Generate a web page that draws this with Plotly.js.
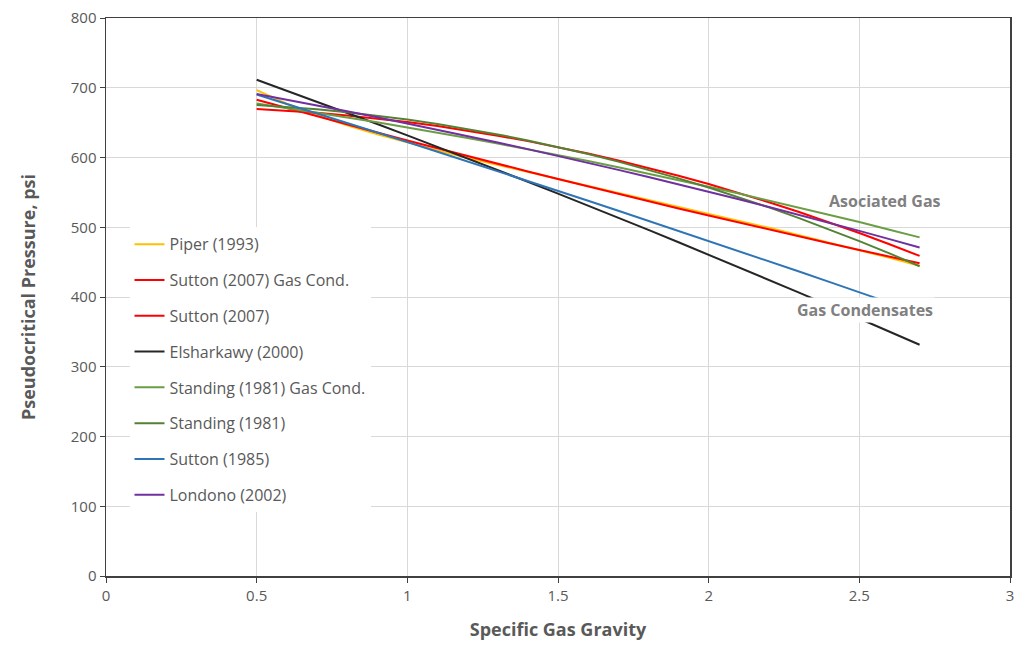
<!DOCTYPE html>
<html>
<head>
<meta charset="utf-8">
<script src="https://cdn.plot.ly/plotly-3.0.1.min.js"></script>
<style>html,body{margin:0;padding:0;background:#fff;}#chart{width:1019px;height:648px;}</style>
</head>
<body>
<div id="chart"></div>
<script>
const gravity = [0.5,0.6,0.7,0.8,0.9,1.0,1.1,1.2,1.3,1.4,1.5,1.6,1.7,1.8,1.9,2.0,2.1,2.2,2.3,2.4,2.5,2.6,2.7];

const piper1993 = [696.7,677.1,660.7,646.3,633.3,621.4,610.2,599.4,589.1,579.0,569.0,559.2,549.3,539.5,529.6,519.6,509.4,499.2,488.7,478.1,467.3,456.2,444.8];
const sutton2007GasCond = [682.8,670.9,659.1,647.5,635.9,624.5,613.2,602.0,591.0,580.0,569.2,558.5,547.9,537.4,527.0,516.8,506.7,496.7,486.8,477.0,467.4,457.8,448.4];
const sutton2007 = [669.5,667.2,664.1,660.3,655.9,650.8,645.0,638.5,631.3,623.5,614.9,605.7,595.8,585.2,573.9,561.9,549.2,535.9,521.9,507.1,491.7,475.6,458.9];
const elsharkawy2000 = [711.4,695.8,680.0,664.1,648.0,631.8,615.4,598.9,582.1,565.3,548.2,531.1,513.7,496.2,478.5,460.7,442.7,424.6,406.3,387.8,369.2,350.5,331.5];
const standing1981GasCond = [677.4,671.0,664.4,657.5,650.5,643.2,635.7,628.0,620.0,611.9,603.5,594.9,586.0,577.0,567.7,558.2,548.5,538.5,528.4,518.0,507.4,496.5,485.5];
const standing1981 = [675.1,672.5,669.1,665.0,660.1,654.5,648.1,641.0,633.1,624.5,615.1,605.0,594.1,582.5,570.1,557.0,543.1,528.5,513.1,497.0,480.1,462.5,444.1];
const sutton1985 = [690.4,676.9,663.3,649.7,636.0,622.2,608.3,594.4,580.4,566.3,552.2,538.0,523.7,509.3,494.9,480.4,465.8,451.2,436.5,421.7,406.8,391.9,376.9];
const londono2002 = [691.0,683.0,674.8,666.4,657.8,649.0,640.0,630.9,621.5,612.0,602.3,592.4,582.3,572.0,561.6,550.9,540.1,529.0,517.8,506.4,494.8,483.0,471.0];

const seriesNames = ["Piper (1993)","Sutton (2007) Gas Cond.","Sutton (2007)","Elsharkawy (2000)","Standing (1981) Gas Cond.","Standing (1981)","Sutton (1985)","Londono (2002)"];
const seriesValues = [piper1993,sutton2007GasCond,sutton2007,elsharkawy2000,standing1981GasCond,standing1981,sutton1985,londono2002];
const seriesColors = ["#FFC000","#FF0000","#FF0000","#262626","#6A9E45","#548235","#2E75B6","#7030A0"];

const traces = seriesNames.map((n,i)=>({
  x: gravity, y: seriesValues[i], name: n, type:'scatter', mode:'lines',
  line:{color:seriesColors[i], width:2}, legendgroup:'g'+i
}));

const fontFam = '"Open Sans", "Noto Sans", sans-serif';
const layout = {
  width:1019, height:648,
  margin:{l:106, r:9, t:18, b:72},
  paper_bgcolor:'#fff', plot_bgcolor:'#fff',
  showlegend:true,
  legend:{x:0.026, y:0.625, xanchor:'left', yanchor:'top', bgcolor:'#fff',
    font:{family:fontFam, size:16, color:'#595959'}, tracegroupgap:12, itemwidth:30},
  xaxis:{range:[0,3], dtick:0.5, tick0:0, showgrid:true, gridcolor:'#D9D9D9',
    zeroline:false, showline:true, linecolor:'#404040', linewidth:1.5, mirror:true,
    ticks:'outside', ticklen:5, tickcolor:'#404040',
    tickfont:{family:fontFam, size:15, color:'#595959'},
    title:{text:'<b>Specific Gas Gravity</b>', font:{family:fontFam, size:18, color:'#595959'}, standoff:20}},
  yaxis:{range:[0,800], dtick:100, showgrid:true, gridcolor:'#D9D9D9',
    zeroline:false, showline:true, linecolor:'#404040', linewidth:1.5, mirror:true,
    ticks:'outside', ticklen:5, tickcolor:'#404040',
    tickfont:{family:fontFam, size:15, color:'#595959'},
    title:{text:'<b>Pseudocritical Pressure, psi</b>', font:{family:fontFam, size:18, color:'#595959'}, standoff:30}},
  annotations:[
    {x:2.585, y:537, text:'<b>Asociated Gas</b>', showarrow:false,
     font:{family:fontFam, size:16, color:'#808080'}},
    {x:2.52, y:381, text:'<b>Gas Condensates</b>', showarrow:false, bgcolor:'#fff',
     font:{family:fontFam, size:16, color:'#808080'}}
  ]
};
Plotly.newPlot('chart', traces, layout, {displayModeBar:false, staticPlot:true});
</script>
</body>
</html>
